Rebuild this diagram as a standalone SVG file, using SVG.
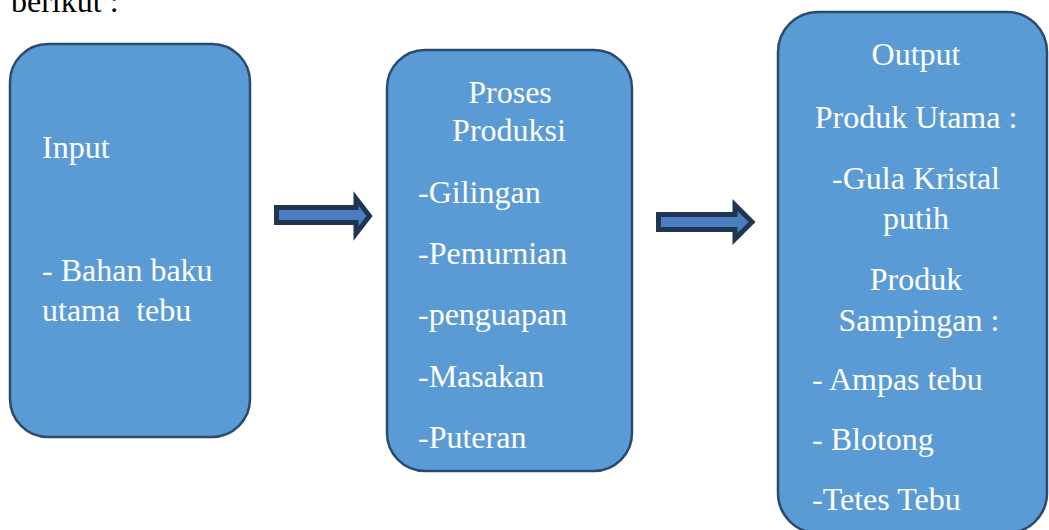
<svg xmlns="http://www.w3.org/2000/svg" width="1049" height="530" viewBox="0 0 1049 530">
<style>
.box{fill:#5B9BD5;stroke:#2A4B6E;stroke-width:2.5}
.arr{fill:#4A7EC0;stroke:#1F3550;stroke-width:5;stroke-linejoin:miter}
text{font-family:"Liberation Serif","Times New Roman",serif;font-size:32px;fill:#ffffff}
.c{text-anchor:middle}
.pg{fill:#000000}
</style>
<rect width="1049" height="530" fill="#ffffff"/>
<text class="pg" x="11" y="12">berikut :</text>
<g id="input">
<rect class="box" x="10" y="44" width="240" height="393" rx="38" ry="38"/>
<text x="42" y="158">Input</text>
<text x="42" y="281">- Bahan baku</text>
<text x="42" y="321" xml:space="preserve">utama  tebu</text>
</g>
<g id="proses">
<rect class="box" x="387" y="50" width="245" height="421" rx="38" ry="38"/>
<text class="c" x="510" y="103">Proses</text>
<text class="c" x="509" y="141">Produksi</text>
<text x="418" y="203">-Gilingan</text>
<text x="418" y="264">-Pemurnian</text>
<text x="418" y="325">-penguapan</text>
<text x="418" y="387">-Masakan</text>
<text x="418" y="448">-Puteran</text>
</g>
<g id="output">
<rect class="box" x="778" y="12" width="269" height="521" rx="40" ry="40"/>
<text class="c" x="916" y="65">Output</text>
<text class="c" x="916" y="128">Produk Utama :</text>
<text class="c" x="916" y="189">-Gula Kristal</text>
<text class="c" x="916" y="229">putih</text>
<text class="c" x="916" y="290">Produk</text>
<text class="c" x="919" y="331">Sampingan :</text>
<text x="812" y="390">- Ampas tebu</text>
<text x="812" y="450">- Blotong</text>
<text x="812" y="510">-Tetes Tebu</text>
</g>
<g id="connectors">
<path class="arr" d="M276.5,207.5 H356 V198.5 L369.5,216 L356,233.5 V222.5 H276.5 Z"/>
<path class="arr" d="M658.5,214.5 H735 V205 L752,222 L735,239 V229.5 H658.5 Z"/>
</g>
</svg>
